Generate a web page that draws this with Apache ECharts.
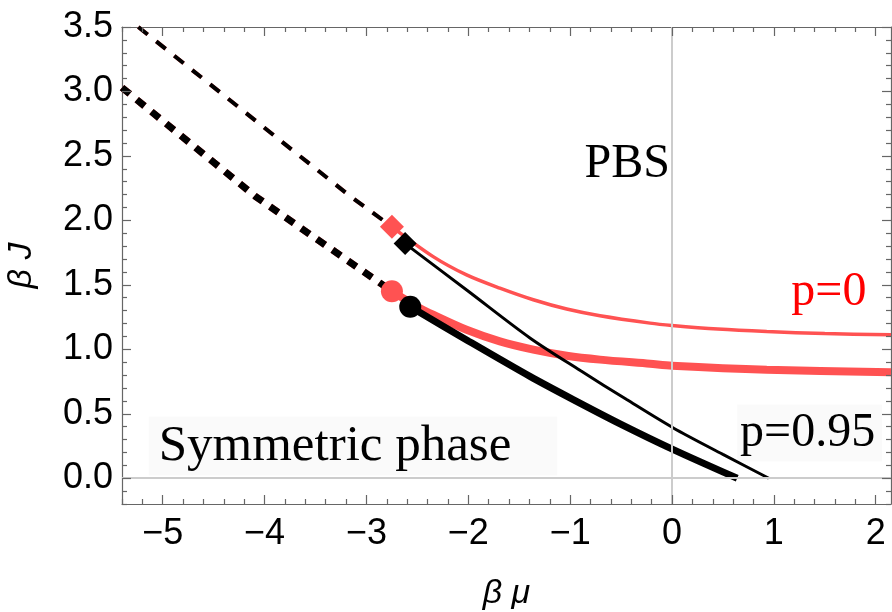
<!DOCTYPE html>
<html>
<head>
<meta charset="utf-8">
<script src="https://cdn.jsdelivr.net/npm/echarts@6/dist/echarts.min.js"></script>
<style>
  html, body { margin: 0; padding: 0; background: #fff; }
  #chart { width: 892px; height: 612px; }
</style>
</head>
<body>
<div id="chart"></div>
<script>
// Phase boundaries in the (beta mu, beta J) plane.
// Dashed: first-order segments; solid: continuation up to the end points.
const dashedUpper = [[-5.24, 3.5], [-3.18, 2.2], [-2.75, 1.95]];
const dashedLower = [[-5.4, 3.03], [-4.08, 2.18], [-2.75, 1.45]];

// p = 0 (red)
const redThin = [[-2.75, 1.95], [-2.345, 1.719], [-2.017, 1.577], [-1.69, 1.474], [-1.362, 1.384],
  [-1.034, 1.312], [-0.707, 1.26], [-0.216, 1.203], [0, 1.185], [0.45, 1.157], [0.93, 1.138],
  [1.5, 1.122], [2.15, 1.113]];
const redThick = [[-2.75, 1.45], [-2.475, 1.319], [-2.345, 1.268], [-2.017, 1.151], [-1.69, 1.061],
  [-1.362, 0.997], [-1.034, 0.95], [-0.707, 0.92], [-0.216, 0.888], [0, 0.873], [0.93, 0.842],
  [2.15, 0.821]];

// p = 0.95 (black)
const blackThin = [[-2.62, 1.82], [-2.0, 1.45], [-1.395, 1.088], [-0.9, 0.835], [-0.445, 0.61],
  [0.013, 0.39], [0.5, 0.185], [0.95, 0]];
const blackThick = [[-2.57, 1.33], [-2.0, 1.065], [-1.395, 0.79], [-0.97, 0.61], [-0.5, 0.418],
  [0.013, 0.222], [0.64, 0]];

// End points
const redDiamond = [[-2.75, 1.95]];
const blackDiamond = [[-2.62, 1.82]];
const redCircle = [[-2.75, 1.45]];
const blackCircle = [[-2.57, 1.33]];

// Axis ranges and ticks
const xRange = [-5.4, 2.15];
const yRange = [-0.2, 3.5];
const xTickLabels = [-5, -4, -3, -2, -1, 0, 1, 2];
const yTickLabels = [0, 0.5, 1, 1.5, 2, 2.5, 3, 3.5];

// Text annotations: [x, y, text]
const annotations = [
  [-0.44, 2.437, 'PBS'],
  [-3.132, 0.249, 'Symmetric phase'],
  [1.351, 0.35, 'p=0.95'],
  [1.54, 1.445, 'p=0']
];

function steps(lo, hi, step) {
  const out = [];
  const n0 = Math.ceil(lo / step - 1e-9), n1 = Math.floor(hi / step + 1e-9);
  for (let k = n0; k <= n1; k++) out.push(+(k * step).toFixed(6));
  return out;
}
const xMinor = steps(xRange[0], xRange[1], 0.2).filter(v => !xTickLabels.includes(v));
const yMinor = steps(yRange[0], yRange[1], 0.1).filter(v => !yTickLabels.includes(v));

const FRAME = '#666666';
const RED = '#ff5252';
const SANS = '"Liberation Sans", Arial, sans-serif';
const SERIF = '"Liberation Serif", "Times New Roman", serif';

// Plot area in pixels, used to express tick lengths in axis units
const GRID = { left: 122, right: 1, top: 27, bottom: 108 };
const plotW = 892 - GRID.left - GRID.right, plotH = 612 - GRID.top - GRID.bottom;
const xPerPx = (xRange[1] - xRange[0]) / plotW, yPerPx = (yRange[1] - yRange[0]) / plotH;

// Inward tick marks on all four frame sides, as markLine segments
const tickSegments = [];
function xTick(v, len) {
  const d = len * yPerPx;
  tickSegments.push([{ coord: [v, yRange[0]] }, { coord: [v, yRange[0] + d] }]);
  tickSegments.push([{ coord: [v, yRange[1]] }, { coord: [v, yRange[1] - d] }]);
}
function yTick(v, len) {
  const d = len * xPerPx;
  tickSegments.push([{ coord: [xRange[0], v] }, { coord: [xRange[0] + d, v] }]);
  tickSegments.push([{ coord: [xRange[1], v] }, { coord: [xRange[1] - d, v] }]);
}
xTickLabels.forEach(v => xTick(v, 9)); xMinor.forEach(v => xTick(v, 5));
yTickLabels.forEach(v => yTick(v, 9)); yMinor.forEach(v => yTick(v, 5));

function fmtX(v) { return v < 0 ? '\u2212' + Math.abs(v) : String(v); }

function xAxisDef(pos, labels) {
  return {
    type: 'value', position: pos, min: xRange[0], max: xRange[1],
    axisLine: { show: true, onZero: false, lineStyle: { color: FRAME, width: 1.2 } },
    splitLine: { show: false }, axisTick: { show: false },
    axisLabel: { show: labels, customValues: xTickLabels, formatter: fmtX, margin: 12,
      color: '#000', fontFamily: SANS, fontSize: 36 },
    name: labels ? 'β μ' : '', nameLocation: 'middle', nameGap: 73,
    nameTextStyle: { fontFamily: SANS, fontSize: 34, fontStyle: 'italic', color: '#000' }
  };
}
function yAxisDef(pos, labels) {
  return {
    type: 'value', position: pos, min: yRange[0], max: yRange[1],
    axisLine: { show: true, onZero: false, lineStyle: { color: FRAME, width: 1.2 } },
    splitLine: { show: false }, axisTick: { show: false },
    axisLabel: { show: labels, customValues: yTickLabels, formatter: v => v.toFixed(1), margin: 9,
      color: '#000', fontFamily: SANS, fontSize: 36 },
    name: labels ? 'β J' : '', nameLocation: 'middle', nameGap: 83, nameRotate: 90,
    nameTextStyle: { fontFamily: SANS, fontSize: 34, fontStyle: 'italic', color: '#000' }
  };
}

function line(data, color, width, dashed, z) {
  return {
    type: 'line', data, xAxisIndex: 0, yAxisIndex: 0, symbol: 'none', z: z,
    smooth: dashed ? false : 0.3,
    lineStyle: { color, width, type: dashed ? dashed : 'solid', cap: 'butt' },
    animation: false, silent: true
  };
}
function marker(data, color, symbol, size) {
  return {
    type: 'scatter', data, xAxisIndex: 0, yAxisIndex: 0, symbol, symbolSize: size, z: 10,
    itemStyle: { color, opacity: 1 }, animation: false, silent: true
  };
}

const chart = echarts.init(document.getElementById('chart'), null, { renderer: 'canvas' });
chart.setOption({
  backgroundColor: '#ffffff',
  animation: false,
  grid: Object.assign({ containLabel: false, outerBoundsMode: 'none' }, GRID),
  xAxis: [xAxisDef('bottom', true), xAxisDef('top', false)],
  yAxis: [yAxisDef('left', true), yAxisDef('right', false)],
  series: [
    {
      // zero axes across the plot
      type: 'line', data: [], xAxisIndex: 0, yAxisIndex: 0, z: 1, silent: true,
      markLine: {
        silent: true, symbol: 'none', animation: false, label: { show: false },
        lineStyle: { color: '#cccccc', width: 2, type: 'solid' },
        data: [{ xAxis: 0 }, { yAxis: 0 }]
      }
    },
    {
      // frame ticks
      type: 'line', data: [], xAxisIndex: 0, yAxisIndex: 0, z: 2, silent: true,
      markLine: {
        silent: true, symbol: 'none', animation: false, label: { show: false },
        lineStyle: { color: FRAME, width: 1.2, type: 'solid' },
        emphasis: { disabled: true },
        data: tickSegments
      }
    },
    line(dashedUpper, RED, 4, [12, 11], 3),
    line(dashedUpper, '#000', 4, [12, 11], 4),
    line(dashedLower, RED, 7, [10, 9], 3),
    line(dashedLower, '#000', 7, [10, 9], 4),
    line(redThin, RED, 3.5, null, 3),
    line(redThick, RED, 8, null, 3),
    line(blackThin, '#000', 3, null, 4),
    line(blackThick, '#000', 7, null, 4),
    marker(redDiamond, RED, 'diamond', 24),
    marker(blackDiamond, '#000', 'diamond', 23),
    marker(redCircle, RED, 'circle', 22),
    marker(blackCircle, '#000', 'circle', 22),
    {
      type: 'scatter', xAxisIndex: 0, yAxisIndex: 0, symbolSize: 0, z: 8, silent: true,
      itemStyle: { opacity: 1 },
      data: annotations.map(a => {
        const item = { value: [a[0], a[1]], name: a[2],
          label: { show: true, position: 'inside', formatter: a[2], fontFamily: SERIF,
            fontSize: 48, color: '#000', opacity: 1 } };
        if (a[2] === 'p=0') item.label.color = '#ff0000';
        if (a[2] === 'Symmetric phase') {
          item.label.fontSize = 51;
          item.label.backgroundColor = 'rgba(0,0,0,0.018)';
          item.label.padding = [4, 46, 4, 10];
        }
        if (a[2] === 'p=0.95') {
          item.label.backgroundColor = 'rgba(0,0,0,0.018)';
          item.label.padding = [4, 7, 5, 3];
        }
        return item;
      })
    }
  ]
});
</script>
</body>
</html>
